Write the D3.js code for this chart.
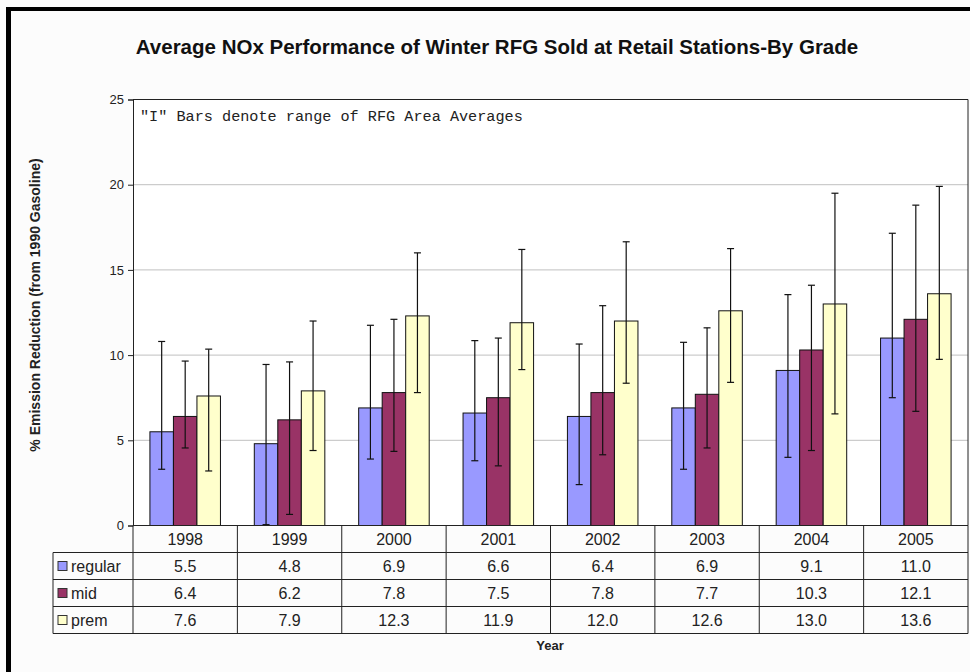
<!DOCTYPE html>
<html>
<head>
<meta charset="utf-8">
<script src="https://cdn.jsdelivr.net/npm/d3@7"></script>
<style>
  body { margin: 0; background: #fcfcfc; }
  svg { display: block; }
</style>
</head>
<body>
<div id="chart"></div>
<script>
// Chart data.
const years = ["1998", "1999", "2000", "2001", "2002", "2003", "2004", "2005"];
const seriesNames = ["regular", "mid", "prem"];
const regular = [5.5, 4.8, 6.9, 6.6, 6.4, 6.9, 9.1, 11.0];
const mid = [6.4, 6.2, 7.8, 7.5, 7.8, 7.7, 10.3, 12.1];
const prem = [7.6, 7.9, 12.3, 11.9, 12.0, 12.6, 13.0, 13.6];
// Range of RFG area averages ("I" bars).
const regularLow = [3.3, 0.05, 3.9, 3.8, 2.4, 3.3, 4.0, 7.5];
const regularHigh = [10.8, 9.45, 11.75, 10.85, 10.65, 10.75, 13.55, 17.15];
const midLow = [4.55, 0.65, 4.35, 3.5, 4.15, 4.55, 4.4, 6.7];
const midHigh = [9.65, 9.6, 12.1, 11.0, 12.9, 11.6, 14.1, 18.8];
const premLow = [3.2, 4.4, 7.8, 9.15, 8.35, 8.4, 6.55, 9.75];
const premHigh = [10.35, 12.0, 16.0, 16.2, 16.65, 16.25, 19.5, 19.9];
const yTicks = [0, 5, 10, 15, 20, 25];

const colors = { regular: "#9999ff", mid: "#993366", prem: "#ffffcc" };
const values = { regular, mid, prem };
const lows = { regular: regularLow, mid: midLow, prem: premLow };
const highs = { regular: regularHigh, mid: midHigh, prem: premHigh };

const width = 970;
const height = 672;
const plot = { left: 133, right: 968, top: 99.5, bottom: 525.5 };
const rowH = 27;
const tableLeft = 53;

const svg = d3.select("#chart")
  .append("svg")
  .attr("width", width)
  .attr("height", height)
  .style("font-family", "Arial, 'Liberation Sans', sans-serif");

// Background and the black frame edges.
svg.append("rect").attr("width", width).attr("height", height).attr("fill", "#fcfcfc");
svg.append("rect").attr("x", 6).attr("y", 7).attr("width", width - 6).attr("height", 4).attr("fill", "#000");
svg.append("rect").attr("x", 6).attr("y", 7).attr("width", 5).attr("height", height - 7).attr("fill", "#000");

// Scales.
const x = d3.scaleBand().domain(years).range([plot.left, plot.right]);
const xInner = d3.scaleBand().domain(seriesNames).range([0, x.bandwidth()]).paddingOuter(0.72);
const y = d3.scaleLinear().domain([0, 25]).range([plot.bottom, plot.top]);

// Plot area.
svg.append("rect")
  .attr("x", plot.left).attr("y", plot.top)
  .attr("width", plot.right - plot.left).attr("height", plot.bottom - plot.top)
  .attr("fill", "#fff");

// Gridlines.
svg.append("g")
  .selectAll("line")
  .data(yTicks.filter((d) => d > 0 && d < 25))
  .join("line")
  .attr("x1", plot.left).attr("x2", plot.right)
  .attr("y1", (d) => y(d)).attr("y2", (d) => y(d))
  .attr("stroke", "#c0c0c0");

// Plot border (top and right).
svg.append("path")
  .attr("d", `M${plot.left},${plot.top}H${plot.right}V${plot.bottom}`)
  .attr("fill", "none")
  .attr("stroke", "#222");

// Y axis.
const yAxis = svg.append("g")
  .attr("transform", `translate(${plot.left},0)`)
  .call(d3.axisLeft(y).tickValues(yTicks).tickSize(5).tickPadding(4));
yAxis.select(".domain").attr("stroke", "#222");
yAxis.selectAll(".tick line").attr("stroke", "#222");
yAxis.selectAll(".tick text")
  .attr("font-size", 13)
  .attr("font-family", "Arial, 'Liberation Sans', sans-serif")
  .attr("fill", "#222");

// Bars.
seriesNames.forEach((name) => {
  svg.append("g")
    .selectAll("rect")
    .data(years)
    .join("rect")
    .attr("x", (d) => x(d) + xInner(name))
    .attr("y", (d, i) => y(values[name][i]))
    .attr("width", xInner.bandwidth())
    .attr("height", (d, i) => y(0) - y(values[name][i]))
    .attr("fill", colors[name])
    .attr("stroke", "#111")
    .attr("stroke-width", 1);
});

// Error bars.
seriesNames.forEach((name) => {
  const g = svg.append("g").attr("stroke", "#111").attr("stroke-width", 1.2);
  years.forEach((yr, i) => {
    const cx = x(yr) + xInner(name) + xInner.bandwidth() / 2;
    const lo = y(lows[name][i]);
    const hi = y(highs[name][i]);
    g.append("line").attr("x1", cx).attr("x2", cx).attr("y1", lo).attr("y2", hi);
    g.append("line").attr("x1", cx - 3.5).attr("x2", cx + 3.5).attr("y1", lo).attr("y2", lo);
    g.append("line").attr("x1", cx - 3.5).attr("x2", cx + 3.5).attr("y1", hi).attr("y2", hi);
  });
});

// X axis line.
svg.append("line")
  .attr("x1", plot.left).attr("x2", plot.right)
  .attr("y1", plot.bottom).attr("y2", plot.bottom)
  .attr("stroke", "#222");

// Data table.
const table = svg.append("g");
const tableBottom = plot.bottom + rowH * 4;
// Column dividers.
table.selectAll("line.col")
  .data(years.map((d) => x(d)).concat([plot.right]))
  .join("line")
  .attr("x1", (d) => d).attr("x2", (d) => d)
  .attr("y1", plot.bottom).attr("y2", tableBottom)
  .attr("stroke", "#222");
table.append("line")
  .attr("x1", tableLeft).attr("x2", tableLeft)
  .attr("y1", plot.bottom + rowH).attr("y2", tableBottom)
  .attr("stroke", "#222");
// Row dividers.
table.selectAll("line.row")
  .data([1, 2, 3, 4])
  .join("line")
  .attr("x1", tableLeft).attr("x2", plot.right)
  .attr("y1", (d) => plot.bottom + rowH * d).attr("y2", (d) => plot.bottom + rowH * d)
  .attr("stroke", "#222");

// Year header.
table.selectAll("text.year")
  .data(years)
  .join("text")
  .attr("x", (d) => x(d) + x.bandwidth() / 2)
  .attr("y", plot.bottom + rowH / 2 + 6)
  .attr("text-anchor", "middle")
  .attr("font-size", 16)
  .attr("fill", "#222")
  .text((d) => d);

// Series rows.
seriesNames.forEach((name, r) => {
  const rowY = plot.bottom + rowH * (r + 1);
  table.append("rect")
    .attr("x", 58).attr("y", rowY + rowH / 2 - 4.5)
    .attr("width", 9).attr("height", 9)
    .attr("fill", colors[name]).attr("stroke", "#333");
  table.append("text")
    .attr("x", 71).attr("y", rowY + rowH / 2 + 6)
    .attr("font-size", 16).attr("fill", "#222")
    .text(name);
  table.append("g")
    .selectAll("text")
    .data(years)
    .join("text")
    .attr("x", (d) => x(d) + x.bandwidth() / 2)
    .attr("y", rowY + rowH / 2 + 6)
    .attr("text-anchor", "middle")
    .attr("font-size", 16)
    .attr("fill", "#222")
    .text((d, i) => values[name][i].toFixed(1));
});

// Titles and note.
svg.append("text")
  .attr("x", 497).attr("y", 54)
  .attr("text-anchor", "middle")
  .attr("font-size", 20.5).attr("font-weight", "bold")
  .attr("fill", "#111")
  .text("Average NOx Performance of Winter RFG Sold at Retail Stations-By Grade");

svg.append("text")
  .attr("x", 140).attr("y", 121)
  .attr("font-family", "'Liberation Mono', 'Courier New', monospace")
  .attr("font-size", 15.2).attr("fill", "#222")
  .text('"I" Bars denote range of RFG Area Averages');

svg.append("text")
  .attr("transform", "translate(40,305) rotate(-90)")
  .attr("text-anchor", "middle")
  .attr("font-size", 14).attr("font-weight", "bold")
  .attr("fill", "#222")
  .text("% Emission Reduction (from 1990 Gasoline)");

svg.append("text")
  .attr("x", 550).attr("y", 650)
  .attr("text-anchor", "middle")
  .attr("font-size", 13).attr("font-weight", "bold")
  .attr("fill", "#222")
  .text("Year");
</script>
</body>
</html>
